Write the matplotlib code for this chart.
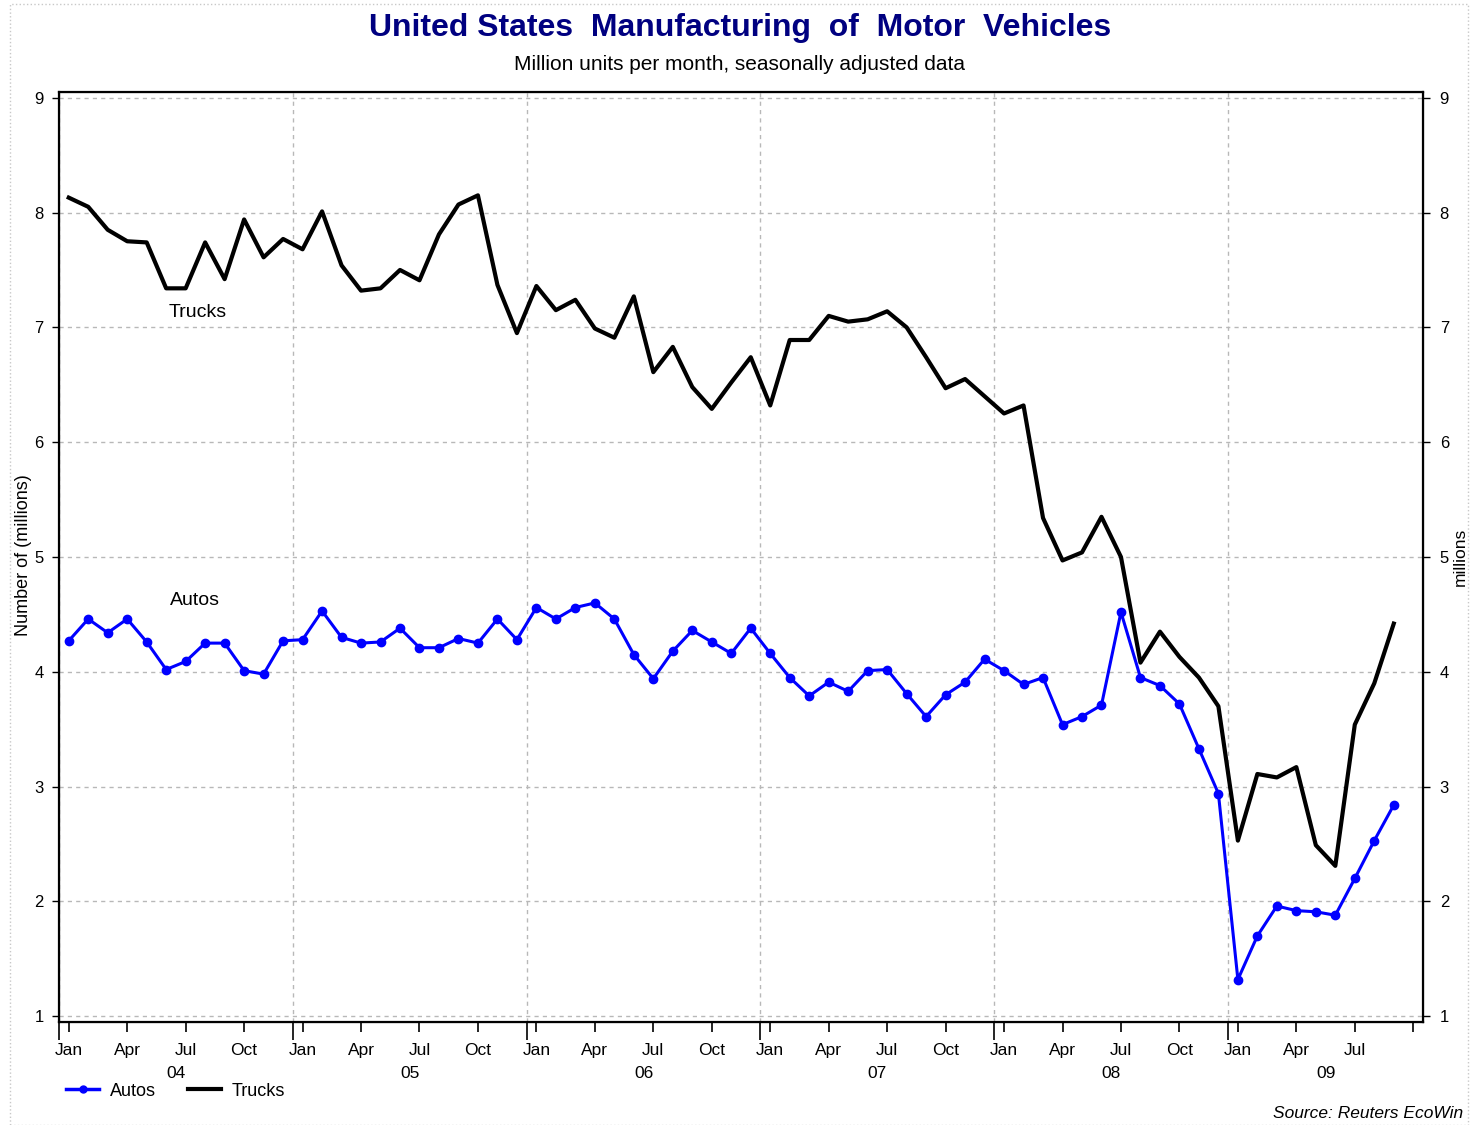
import matplotlib
matplotlib.use("Agg")
import matplotlib.pyplot as plt
from matplotlib.lines import Line2D
from matplotlib.patches import Rectangle
import matplotlib.transforms as mtransforms
import numpy as np

plt.rcParams['font.family'] = ['Liberation Sans', 'DejaVu Sans']

# Monthly data, Jan 2004 .. Sep 2009 (million units, SAAR)
autos = [4.27, 4.46, 4.34, 4.46, 4.26, 4.02, 4.09, 4.25, 4.25, 4.01, 3.98, 4.27,
         4.28, 4.53, 4.30, 4.25, 4.26, 4.38, 4.21, 4.21, 4.29, 4.25, 4.46, 4.28,
         4.56, 4.46, 4.56, 4.60, 4.46, 4.15, 3.94, 4.18, 4.36, 4.26, 4.16, 4.38,
         4.16, 3.95, 3.79, 3.91, 3.83, 4.01, 4.02, 3.81, 3.61, 3.80, 3.91, 4.11,
         4.01, 3.89, 3.95, 3.54, 3.61, 3.71, 4.52, 3.95, 3.88, 3.72, 3.33, 2.94,
         1.32, 1.70, 1.96, 1.92, 1.91, 1.88, 2.20, 2.53, 2.84]
trucks = [8.13, 8.05, 7.85, 7.75, 7.74, 7.34, 7.34, 7.74, 7.42, 7.94, 7.61, 7.77,
          7.68, 8.01, 7.54, 7.32, 7.34, 7.50, 7.41, 7.81, 8.07, 8.15, 7.37, 6.95,
          7.36, 7.15, 7.24, 6.99, 6.91, 7.27, 6.61, 6.83, 6.48, 6.29, 6.52, 6.74,
          6.32, 6.89, 6.89, 7.10, 7.05, 7.07, 7.14, 7.00, 6.74, 6.47, 6.55, 6.40,
          6.25, 6.32, 5.34, 4.97, 5.04, 5.35, 5.00, 4.08, 4.35, 4.13, 3.95, 3.70,
          2.53, 3.11, 3.08, 3.17, 2.49, 2.31, 3.54, 3.90, 4.42]
quarter_names = ['Jan', 'Apr', 'Jul', 'Oct']
year_labels = ['04', '05', '06', '07', '08', '09']
y_ticks = [1, 2, 3, 4, 5, 6, 7, 8, 9]

x = np.arange(len(autos))
n_months = 70  # axis runs through Oct 09

fig = plt.figure(figsize=(14.7, 11.25), dpi=100)
ax = fig.add_axes([59 / 1470, 1 - 1022 / 1125, (1423 - 59) / 1470, (1022 - 92) / 1125])

ax.plot(x, trucks, color='black', lw=3.0, zorder=3)
ax.plot(x, autos, color='#0000ff', lw=2.2, marker='o', ms=6, zorder=4)

ax.set_xlim(-0.5, n_months - 0.5)
ax.set_ylim(0.95, 9.05)

# year boundaries = major ticks + vertical grid
year_edges = np.arange(-0.5, n_months, 12)
ax.set_xticks(year_edges)
ax.set_xticklabels([''] * len(year_edges))
ax.tick_params(axis='x', which='major', length=13, width=1.2, direction='out')
quarters = np.arange(0, n_months, 3)
ax.set_xticks(quarters, minor=True)
qlabels = [quarter_names[(q % 12) // 3] if q < len(autos) else '' for q in quarters]
ax.set_xticklabels(qlabels, minor=True, fontsize=12.5)
ax.tick_params(axis='x', which='minor', length=7, width=1.2, direction='out', pad=8)

ax.set_yticks(y_ticks)
ax.tick_params(axis='y', length=5, width=1, labelsize=12, pad=6)

ax.grid(True, which='major', color='#b8b8b8', ls=(0, (3, 3)), lw=1)
for s in ax.spines.values():
    s.set_linewidth(1.6)

# year labels under Jul of each year (centered on visible part)
trans = mtransforms.blended_transform_factory(ax.transData, ax.transAxes)
for k, yl in enumerate(year_labels):
    lo = max(-0.5, k * 12 - 0.5)
    hi = min(n_months - 0.5, k * 12 + 11.5)
    ax.text((lo + hi) / 2, -0.055, yl, transform=trans, ha='center', va='center', fontsize=12.5)

ax2 = ax.twinx()
ax2.set_ylim(ax.get_ylim())
ax2.set_yticks(y_ticks)
ax2.tick_params(axis='y', length=5, width=1, labelsize=12, pad=7)

fig.text(24 / 1470, 1 - 555 / 1125, 'Number of (millions)', rotation=90,
         ha='center', va='center', fontsize=13)
fig.text(1460 / 1470, 1 - 557 / 1125, 'millions', rotation=90,
         ha='center', va='center', fontsize=12.5)

ax.text(6.6, 7.13, 'Trucks', fontsize=14, ha='center', va='center')
ax.text(6.5, 4.62, 'Autos', fontsize=14, ha='center', va='center')

fig.text(740 / 1470, 1 - 28 / 1125, 'United States  Manufacturing  of  Motor  Vehicles',
         ha='center', va='center', fontsize=23, fontweight='bold', color='#000080')
fig.text(740 / 1470, 1 - 65 / 1125, 'Million units per month, seasonally adjusted data',
         ha='center', va='center', fontsize=15)
fig.text(1463 / 1470, 1 - 1113 / 1125, 'Source: Reuters EcoWin', ha='right', va='center',
         fontsize=12.5, style='italic')

handles = [Line2D([], [], color='#0000ff', lw=2.5, marker='o', ms=5),
           Line2D([], [], color='black', lw=3)]
fig.legend(handles, ['Autos', 'Trucks'], loc='center left', bbox_to_anchor=(50 / 1470, 1 - 1091 / 1125),
           ncol=2, frameon=False, fontsize=13, handlelength=1.8, columnspacing=1.8,
           handletextpad=0.6)

fig.add_artist(Rectangle((10 / 1470, 0), 1458 / 1470, 1 - 4 / 1125, transform=fig.transFigure,
                         fill=False, ec='#c8c8c8', lw=1, ls=':'))

fig.savefig('out.png', dpi=100)
